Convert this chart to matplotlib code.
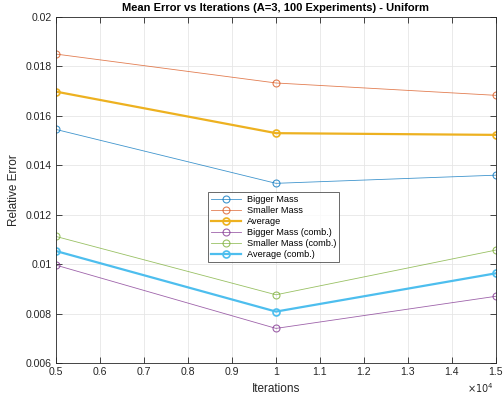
import matplotlib
matplotlib.use("Agg")
import matplotlib.pyplot as plt
from matplotlib.ticker import FuncFormatter, MultipleLocator

plt.rcParams['font.family'] = ['Liberation Sans', 'DejaVu Sans']

iterations = [5000, 10000, 15000]
bigger_mass = [0.01545, 0.01327, 0.01360]
smaller_mass = [0.01850, 0.01733, 0.01683]
average = [0.01698, 0.01530, 0.01523]
bigger_comb = [0.00996, 0.00740, 0.00870]
smaller_comb = [0.01112, 0.00876, 0.01057]
average_comb = [0.01053, 0.00808, 0.00963]

series = [
    ("Bigger Mass", bigger_mass, "#0072BD", 0.6),
    ("Smaller Mass", smaller_mass, "#D95319", 0.6),
    ("Average", average, "#EDB120", 1.6),
    ("Bigger Mass (comb.)", bigger_comb, "#7E2F8E", 0.6),
    ("Smaller Mass (comb.)", smaller_comb, "#77AC30", 0.6),
    ("Average (comb.)", average_comb, "#4DBEEE", 1.6),
]

fig = plt.figure(figsize=(5.03, 4.0), dpi=100)
ax = fig.add_axes([56 / 503, 37 / 400, 440 / 503, 346 / 400])

for name, vals, color, lw in series:
    alpha = 1.0 if lw > 1 else 0.75
    ax.plot(iterations, vals, color=color, lw=lw, marker='o', ms=5,
            mfc='none', mew=0.8 if lw < 1 else 1.2, alpha=alpha, label=name)

ax.set_xlim(5000, 15000)
ax.set_ylim(0.006, 0.02)
ax.xaxis.set_major_locator(MultipleLocator(1000))
ax.yaxis.set_major_locator(MultipleLocator(0.002))
ax.xaxis.set_major_formatter(FuncFormatter(lambda v, p: f"{v/1e4:g}"))
ax.yaxis.set_major_formatter(FuncFormatter(lambda v, p: f"{v:g}"))
ax.grid(True, color='#e6e6e6', lw=0.6)
ax.set_axisbelow(True)
ax.tick_params(direction='in', length=4, width=0.6, colors='#262626',
               labelsize=7.6, top=True, right=True, pad=3)
for s in ax.spines.values():
    s.set_color('#262626')
    s.set_linewidth(0.6)

ax.set_xlabel("Iterations", fontsize=8.5, color='#262626', labelpad=4)
ax.set_ylabel("Relative Error", fontsize=8.5, color='#262626', labelpad=4)
ax.set_title("Mean Error vs Iterations (A=3, 100 Experiments) - Uniform",
             fontsize=8, fontweight='bold', pad=4)
ax.text(0.995, -0.072, r"$\times10^4$", transform=ax.transAxes, ha='right',
        va='center', fontsize=7, color='#262626')

leg = ax.legend(loc='center', bbox_to_anchor=(0.494, 0.393), fontsize=6.6,
                frameon=True, fancybox=False, edgecolor='#262626',
                handlelength=3.3, borderpad=0.35, labelspacing=0.22,
                handletextpad=0.6, borderaxespad=0)
leg.get_frame().set_linewidth(0.6)

fig.savefig("out.png", dpi=100)
